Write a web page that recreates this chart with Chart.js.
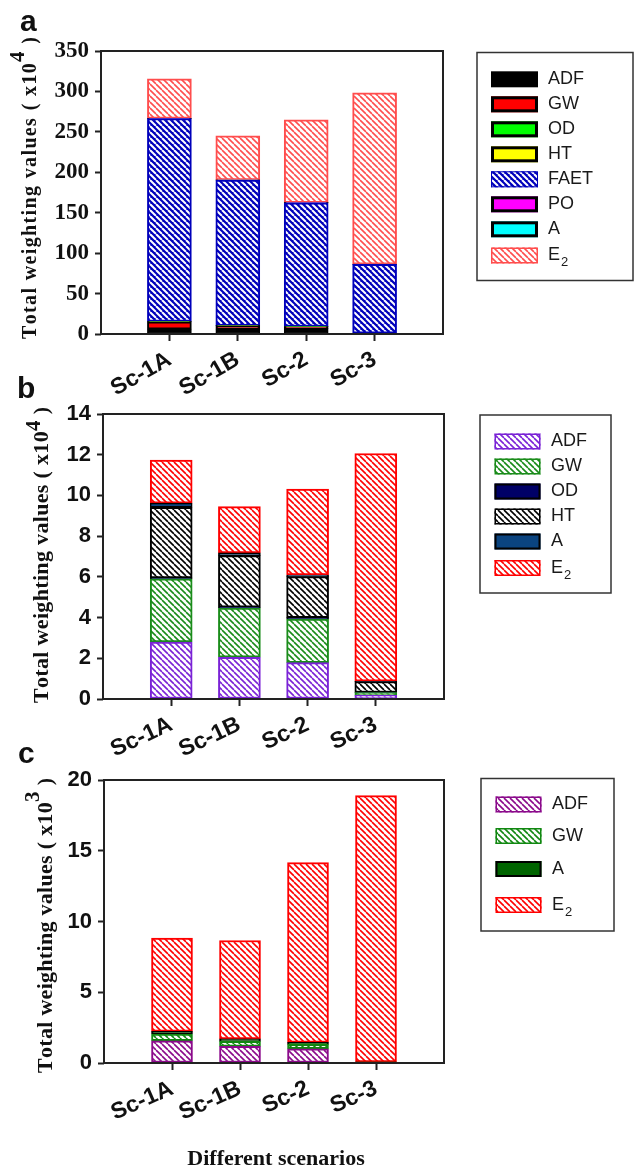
<!DOCTYPE html>
<html>
<head>
<meta charset="utf-8">
<script src="https://cdn.jsdelivr.net/npm/chart.js@4.4.1/dist/chart.umd.min.js"></script>
<style>
html, body { margin: 0; padding: 0; background: #fff; }
#wrap { position: relative; width: 634px; height: 1168px; }
canvas { position: absolute; left: 0; top: 0; }
</style>
</head>
<body>
<div id="wrap">
  <canvas id="chartA" width="634" height="1168"></canvas>
  <canvas id="chartB" width="634" height="1168"></canvas>
  <canvas id="chartC" width="634" height="1168"></canvas>
</div>
<script>
// ===== DATA =====
const scenarios = ['Sc-1A', 'Sc-1B', 'Sc-2', 'Sc-3'];

// panel a (x10^4)
const seriesA = ['ADF', 'GW', 'OD', 'HT', 'FAET', 'PO', 'A', 'E2'];
const a_ADF  = [6, 6, 7, 0.5];
const a_GW   = [9, 4, 2, 0.3];
const a_OD   = [0.3, 0.2, 0.2, 0.1];
const a_HT   = [0.2, 0.2, 0.1, 0.1];
const a_FAET = [251, 180, 153, 85.2];
const a_PO   = [0.1, 0.1, 0.1, 0.1];
const a_A    = [0.1, 0.1, 0.1, 0.1];
const a_E2   = [49, 54.6, 102.3, 212];
const a_yMax = 350, a_yStep = 50;

// panel b (x10^4)
const seriesB = ['ADF', 'GW', 'OD', 'HT', 'A', 'E2'];
const b_ADF = [2.8, 2.05, 1.79, 0.18];
const b_GW  = [3.1, 2.42, 2.13, 0.13];
const b_OD  = [0.05, 0.04, 0.08, 0.01];
const b_HT  = [3.47, 2.53, 2.01, 0.53];
const b_A   = [0.2, 0.14, 0.08, 0.02];
const b_E2  = [2.12, 2.27, 4.22, 11.19];
const b_yMax = 14, b_yStep = 2;

// panel c (x10^3)
const seriesC = ['ADF', 'GW', 'A', 'E2'];
const c_ADF = [1.57, 1.17, 1.01, 0.04];
const c_GW  = [0.48, 0.36, 0.31, 0.02];
const c_A   = [0.18, 0.18, 0.14, 0.02];
const c_E2  = [6.59, 6.95, 12.7, 18.82];
const c_yMax = 20, c_yStep = 5;

// ===== HELPERS =====
function hatch(lineColor, bgColor, size, width) {
    const tile = document.createElement('canvas');
    tile.width = size; tile.height = size;
    const t = tile.getContext('2d');
    if (bgColor) { t.fillStyle = bgColor; t.fillRect(0, 0, size, size); }
    t.strokeStyle = lineColor; t.lineWidth = width;
    [-size, 0, size].forEach(o => {
        t.beginPath(); t.moveTo(o, 0); t.lineTo(o + size, size); t.stroke();
    });
    return t.createPattern(tile, 'repeat');
}

function ds(label, values, bg, border, bw) {
    return {
        label: label,
        data: values.map((v, i) => ({ x: i + 1, y: v })),
        backgroundColor: bg,
        borderColor: border,
        borderWidth: bw,
        borderSkipped: false
    };
}

function drawYTitle(ctx, t) {
    const runs = [
        { s: 'Total weighting values ( x10', size: t.size, rise: 0 },
        { s: t.exp, size: t.supSize, rise: t.supRise },
        { s: ' )', size: t.size, rise: 0 }
    ];
    const chars = [];
    runs.forEach(r => {
        ctx.font = 'bold ' + r.size + 'px "Liberation Serif"';
        for (const ch of r.s) chars.push({ ch: ch, size: r.size, rise: r.rise, w: ctx.measureText(ch).width });
    });
    const natural = chars.reduce((a, c) => a + c.w, 0);
    const extra = ((t.y0 - t.y1) - natural) / (chars.length - 1);
    ctx.save();
    ctx.translate(t.x, t.y0);
    ctx.rotate(-Math.PI / 2);
    ctx.textAlign = 'left'; ctx.textBaseline = 'alphabetic';
    let u = 0;
    chars.forEach(c => {
        ctx.font = 'bold ' + c.size + 'px "Liberation Serif"';
        ctx.fillText(c.ch, u, -c.rise);
        u += c.w + extra;
    });
    ctx.restore();
}

const panelDecor = {
    id: 'panelDecor',
    afterDraw(chart, args, o) {
        const ctx = chart.ctx, ar = chart.chartArea;
        ctx.save();
        ctx.fillStyle = '#111';
        // frame
        ctx.strokeStyle = '#222'; ctx.lineWidth = 2;
        ctx.strokeRect(ar.left, ar.top, ar.right - ar.left, ar.bottom - ar.top);
        // letter
        ctx.font = 'bold 30px "Liberation Sans"';
        ctx.textAlign = 'left'; ctx.textBaseline = 'alphabetic';
        ctx.fillText(o.letter, o.letterPos[0], o.letterPos[1]);
        // y title
        drawYTitle(ctx, o.yTitle);
        // x title
        if (o.xTitle) {
            ctx.font = 'bold 22px "Liberation Serif"';
            ctx.textAlign = 'center';
            ctx.fillText(o.xTitle.text, o.xTitle.x, o.xTitle.y);
        }
        // legend
        const L = o.legend;
        ctx.strokeStyle = '#333'; ctx.lineWidth = 1.5;
        ctx.strokeRect(L.box[0], L.box[1], L.box[2], L.box[3]);
        chart.data.datasets.forEach((d, i) => {
            const cy = L.rows[i];
            const x = L.sx, y = cy - L.sh / 2;
            ctx.fillStyle = d.backgroundColor;
            ctx.fillRect(x, y, L.sw, L.sh);
            const lw = L.bw[i];
            if (lw > 0) {
                ctx.strokeStyle = d.borderColor; ctx.lineWidth = lw;
                ctx.strokeRect(x + lw / 2, y + lw / 2, L.sw - lw, L.sh - lw);
            }
            ctx.fillStyle = '#1a1a1a';
            ctx.textAlign = 'left'; ctx.textBaseline = 'middle';
            const m = d.label.match(/^(\D+)(\d+)$/);
            ctx.font = '18px "Liberation Sans"';
            if (m) {
                ctx.fillText(m[1], L.tx, cy);
                const w = ctx.measureText(m[1]).width;
                ctx.font = '13px "Liberation Sans"';
                ctx.fillText(m[2], L.tx + w + 1, cy + 7);
            } else {
                ctx.fillText(d.label, L.tx, cy);
            }
        });
        ctx.restore();
    }
};

function makeChart(id, p) {
    const yWidth = 60, xHeight = 80;
    return new Chart(document.getElementById(id), {
        type: 'bar',
        data: { datasets: p.datasets },
        plugins: [panelDecor],
        options: {
            responsive: false,
            animation: false,
            layout: {
                padding: {
                    left: p.plot.left - yWidth,
                    top: p.plot.top,
                    right: 634 - p.plot.right,
                    bottom: 1168 - p.plot.bottom - xHeight
                }
            },
            datasets: { bar: { barThickness: p.barThickness } },
            plugins: {
                legend: { display: false },
                tooltip: { enabled: false },
                panelDecor: p.decor
            },
            scales: {
                x: {
                    type: 'linear',
                    stacked: true,
                    offset: false,
                    min: 0, max: scenarios.length + 1,
                    afterBuildTicks: axis => { axis.ticks = scenarios.map((s, i) => ({ value: i + 1 })); },
                    afterFit: s => { s.height = xHeight; },
                    border: { display: false },
                    grid: { offset: false, drawOnChartArea: false, drawTicks: true, tickLength: 7, tickColor: '#222', tickWidth: 2 },
                    ticks: {
                        autoSkip: false,
                        minRotation: p.xRot, maxRotation: p.xRot,
                        padding: 5,
                        color: '#111',
                        font: { family: 'Liberation Sans', weight: 'bold', size: 23 },
                        callback: v => scenarios[v - 1] || ''
                    }
                },
                y: {
                    stacked: true,
                    min: 0, max: p.yMax,
                    afterFit: s => { s.width = yWidth; },
                    border: { display: false },
                    grid: { drawOnChartArea: false, drawTicks: true, tickLength: 6, tickColor: '#222', tickWidth: 2 },
                    ticks: {
                        stepSize: p.yStep,
                        padding: 6,
                        color: '#111',
                        font: p.yFont
                    }
                }
            }
        }
    });
}

// ===== PANEL A =====
const blueHatch = hatch('#ffffff', '#0000bb', 6, 2);
const pinkHatch = hatch('#ff4d4d', '#ffffff', 6, 1.6);
makeChart('chartA', {
    plot: { left: 101, top: 51, right: 443, bottom: 334 },
    barThickness: 44, xRot: 30,
    yMax: a_yMax, yStep: a_yStep,
    yFont: { family: 'Liberation Serif', weight: 'bold', size: 23 },
    datasets: [
        ds(seriesA[0], a_ADF, '#000000', '#000000', 1),
        ds(seriesA[1], a_GW, '#ff0000', '#000000', 2),
        ds(seriesA[2], a_OD, '#00ff00', '#000000', 2),
        ds(seriesA[3], a_HT, '#ffff00', '#000000', 2),
        ds(seriesA[4], a_FAET, blueHatch, '#0000bb', 2),
        ds(seriesA[5], a_PO, '#ff00ff', '#000000', 2),
        ds(seriesA[6], a_A, '#00ffff', '#000000', 2),
        ds(seriesA[7], a_E2, pinkHatch, '#ff4d4d', 2)
    ],
    decor: {
        letter: 'a', letterPos: [20, 31],
        yTitle: { x: 36, y0: 339, y1: 37, size: 20, supSize: 21, supRise: 12.5, exp: '4' },
        legend: {
            box: [477, 52.5, 156, 228],
            sx: 491, sw: 47, sh: 16, tx: 548,
            rows: [79.3, 104.3, 129.3, 154.3, 179.3, 204.3, 229.3, 255.5],
            bw: [0, 3, 3, 3, 1, 3, 3, 1.5]
        }
    }
});

// ===== PANEL B =====
makeChart('chartB', {
    plot: { left: 103, top: 414, right: 444, bottom: 699 },
    barThickness: 42, xRot: 25,
    yMax: b_yMax, yStep: b_yStep,
    yFont: { family: 'Liberation Sans', weight: 'bold', size: 22 },
    datasets: [
        ds(seriesB[0], b_ADF, hatch('#7a22d6', '#ffffff', 6, 1.6), '#7a22d6', 2),
        ds(seriesB[1], b_GW, hatch('#1a8c1a', '#ffffff', 6, 1.6), '#1a8c1a', 2),
        ds(seriesB[2], b_OD, '#000066', '#000000', 1.5),
        ds(seriesB[3], b_HT, hatch('#000000', '#ffffff', 6, 1.6), '#000000', 2),
        ds(seriesB[4], b_A, '#0a4480', '#000000', 1.5),
        ds(seriesB[5], b_E2, hatch('#ff0000', '#ffffff', 6, 1.6), '#ff0000', 2)
    ],
    decor: {
        letter: 'b', letterPos: [17, 398],
        yTitle: { x: 48, y0: 703, y1: 407, size: 22, supSize: 21, supRise: 8.5, exp: '4' },
        legend: {
            box: [480, 415, 131, 178],
            sx: 494.5, sw: 46, sh: 16, tx: 551,
            rows: [441.5, 466.5, 491.5, 516.5, 541.5, 568],
            bw: [1.5, 1.5, 2, 1.5, 2, 1.5]
        }
    }
});

// ===== PANEL C =====
makeChart('chartC', {
    plot: { left: 104, top: 780, right: 444, bottom: 1063 },
    barThickness: 41, xRot: 24,
    yMax: c_yMax, yStep: c_yStep,
    yFont: { family: 'Liberation Sans', weight: 'bold', size: 22 },
    datasets: [
        ds(seriesC[0], c_ADF, hatch('#8b0a8b', '#ffffff', 6, 1.6), '#8b0a8b', 2),
        ds(seriesC[1], c_GW, hatch('#118811', '#ffffff', 6, 1.6), '#118811', 2),
        ds(seriesC[2], c_A, '#006400', '#000000', 1.5),
        ds(seriesC[3], c_E2, hatch('#ff0000', '#ffffff', 6, 1.6), '#ff0000', 2)
    ],
    decor: {
        letter: 'c', letterPos: [18, 763],
        yTitle: { x: 51.5, y0: 1073, y1: 778, size: 22, supSize: 21, supRise: 13, exp: '3' },
        xTitle: { text: 'Different scenarios', x: 276, y: 1165 },
        legend: {
            box: [481, 778.5, 133, 152.5],
            sx: 495.5, sw: 46, sh: 16, tx: 552,
            rows: [804.5, 836, 869, 905],
            bw: [1.5, 1.5, 2, 1.5]
        }
    }
});
</script>
</body>
</html>
